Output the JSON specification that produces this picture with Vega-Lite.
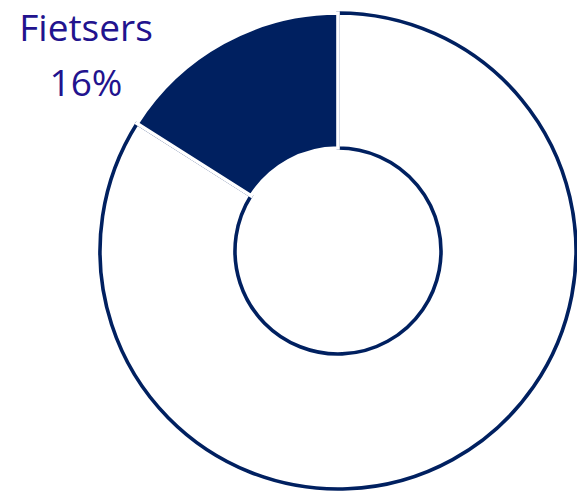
{
  "$schema": "https://vega.github.io/schema/vega-lite/v6.json",
  "autosize": "none",
  "width": 478,
  "height": 484,
  "padding": {"left": 99, "top": 9, "right": 0, "bottom": 0},
  "background": "#ffffff",
  "title": {
    "text": ["Fietsers", "16%"],
    "orient": "top",
    "anchor": "start",
    "frame": "group",
    "align": "center",
    "baseline": "alphabetic",
    "offset": 0,
    "dx": -13,
    "dy": 127,
    "lineHeight": 55,
    "font": "Open Sans",
    "fontSize": 37,
    "fontWeight": "normal",
    "color": "#22138e"
  },
  "data": {
    "values": [
      {"category": "Overig", "value": 84},
      {"category": "Fietsers", "value": 16}
    ]
  },
  "mark": {"type": "arc", "outerRadius": 238, "innerRadius": 103, "strokeWidth": 3.6},
  "encoding": {
    "theta": {"field": "value", "type": "quantitative", "stack": true},
    "order": {"field": "category", "sort": "descending"},
    "color": {
      "field": "category",
      "type": "nominal",
      "scale": {"domain": ["Fietsers", "Overig"], "range": ["#002060", "#ffffff"]},
      "legend": null
    },
    "stroke": {
      "field": "category",
      "type": "nominal",
      "scale": {"domain": ["Fietsers", "Overig"], "range": ["#ffffff", "#002060"]},
      "legend": null
    }
  },
  "config": {"view": {"stroke": null}}
}
